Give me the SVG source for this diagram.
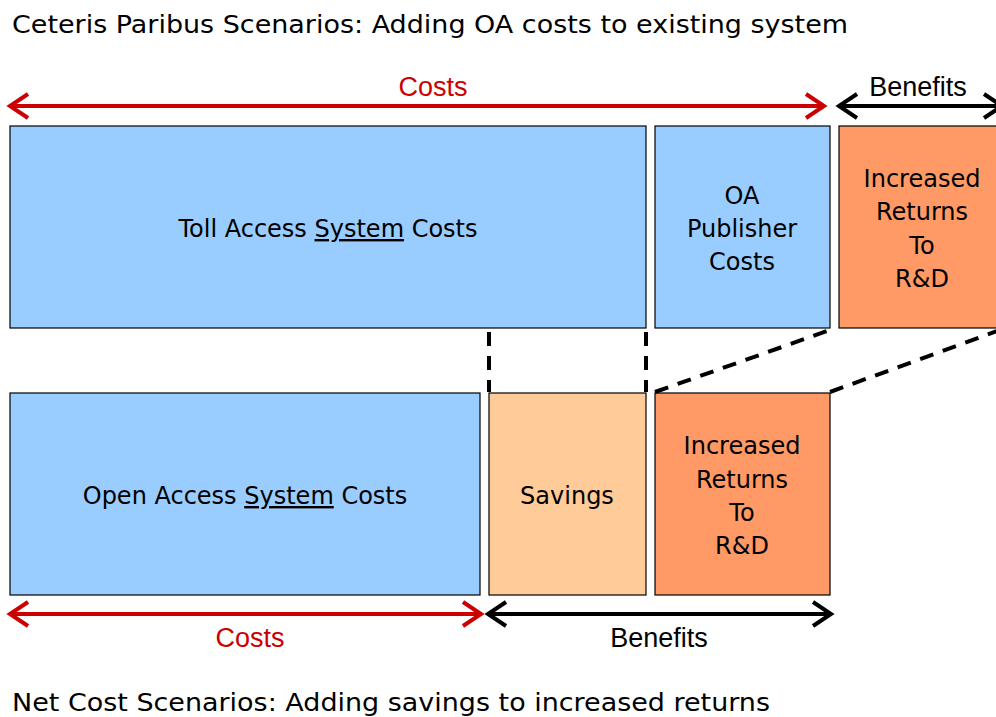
<svg xmlns="http://www.w3.org/2000/svg" width="996" height="717" viewBox="0 0 996 717">
<style>
.box{stroke:#000;stroke-width:1.2}
.blue{fill:#99CCFF}
.sav{fill:#FFCC99}
.ret{fill:#FF9966}
.t{font-family:"DejaVu Sans",Verdana,sans-serif;font-size:24px;fill:#000;text-anchor:middle}
.h{font-family:"DejaVu Sans",Verdana,sans-serif;font-size:25px;fill:#000}
.lab{font-family:"Liberation Sans",Arial,sans-serif;font-size:27px;text-anchor:middle}
.red{stroke:#CC0000}
.blk{stroke:#000}
.arr{fill:none;stroke-width:4}
.dash{fill:none;stroke:#000;stroke-width:4;stroke-dasharray:14,10}
</style>
<rect width="996" height="717" fill="#fff"/>
<text class="h" x="12" y="33" textLength="836" lengthAdjust="spacingAndGlyphs">Ceteris Paribus Scenarios: Adding OA costs to existing system</text>
<text class="h" x="12" y="711" textLength="758" lengthAdjust="spacingAndGlyphs">Net Cost Scenarios: Adding savings to increased returns</text>

<g id="toll"><rect class="box blue" x="10" y="126" width="636" height="202"/><text class="t" x="328" y="237">Toll Access <tspan text-decoration="underline">System</tspan> Costs</text></g>
<g id="oapub"><rect class="box blue" x="655" y="126" width="175" height="202"/><text class="t" x="742" y="204">OA</text><text class="t" x="742" y="237">Publisher</text><text class="t" x="742" y="270">Costs</text></g>
<g id="ret1"><rect class="box ret" x="839" y="126" width="170" height="202"/><text class="t" x="922" y="187">Increased</text><text class="t" x="922" y="220">Returns</text><text class="t" x="922" y="254">To</text><text class="t" x="922" y="287">R&amp;D</text></g>

<g id="open"><rect class="box blue" x="10" y="393" width="470" height="202"/><text class="t" x="245" y="504">Open Access <tspan text-decoration="underline">System</tspan> Costs</text></g>
<g id="savings"><rect class="box sav" x="489" y="393" width="157" height="202"/><text class="t" x="567" y="504">Savings</text></g>
<g id="ret2"><rect class="box ret" x="655" y="393" width="175" height="202"/><text class="t" x="742" y="454">Increased</text><text class="t" x="742" y="488">Returns</text><text class="t" x="742" y="521">To</text><text class="t" x="742" y="554">R&amp;D</text></g>

<g id="connectors">
<path class="arr red" d="M10 106H824M28 94L10 106L28 118M806 94L824 106L806 118"/>
<path class="arr blk" d="M839 106H1002M857 94L839 106L857 118M984 94L1002 106L984 118"/>
<path class="arr red" d="M10 614H481M28 602L10 614L28 626M463 602L481 614L463 626"/>
<path class="arr blk" d="M488 614H831M506 602L488 614L506 626M813 602L831 614L813 626"/>
<path class="dash" d="M489 332V392"/>
<path class="dash" d="M646 332V392"/>
<path class="dash" d="M655 392L830 330"/>
<path class="dash" d="M830 392L1000 330"/>
<text class="lab" x="433" y="96" fill="#CC0000">Costs</text>
<text class="lab" x="918" y="96" fill="#000">Benefits</text>
<text class="lab" x="250" y="647" fill="#CC0000">Costs</text>
<text class="lab" x="659" y="647" fill="#000">Benefits</text>
</g>
</svg>
